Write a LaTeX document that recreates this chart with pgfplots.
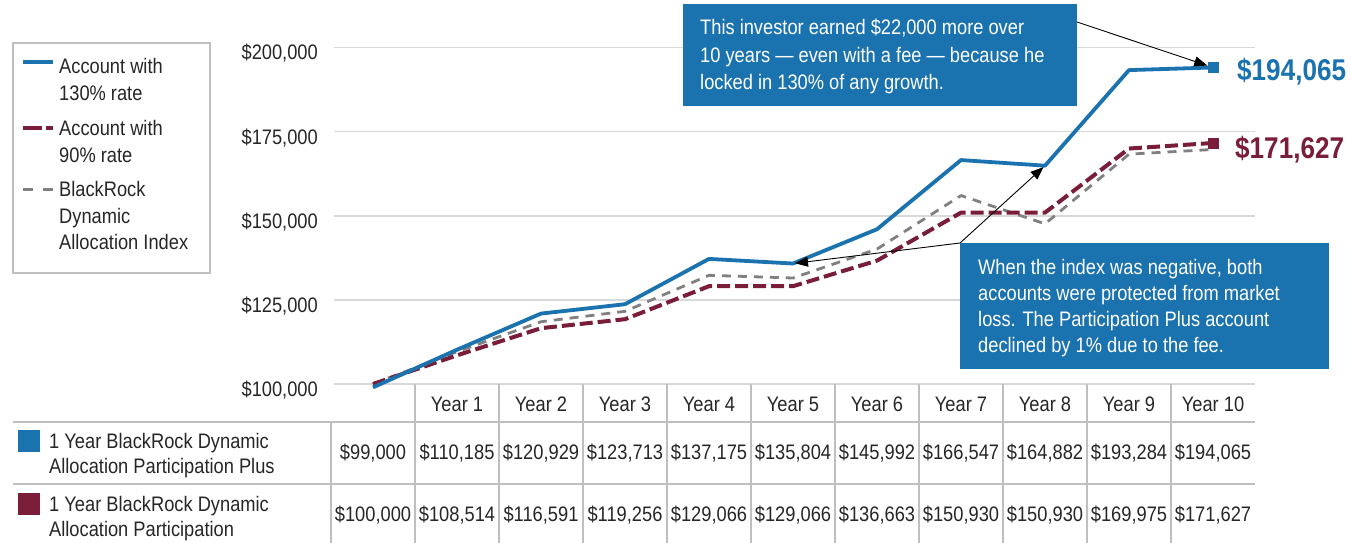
\documentclass[border=0pt]{standalone}
\usepackage{fontspec}
\setmainfont{Liberation Sans}[FakeStretch=0.87]
\usepackage{pgfplots}
\pgfplotsset{compat=1.18}
\usepackage{pgfplotstable}
\usetikzlibrary{arrows.meta}

\definecolor{cblue}{HTML}{1A72AF}
\definecolor{cred}{HTML}{7A1D39}
\definecolor{cgray}{HTML}{808080}
\definecolor{gridc}{HTML}{D9D9D9}
\definecolor{tline}{HTML}{BFBFBF}
\definecolor{txt}{HTML}{262626}

\pgfplotstableread{
year plus   part   index
0    99000  100000 100000
1    110185 108514 109600
2    120929 116591 118500
3    123713 119256 121600
4    137175 129066 132300
5    135804 129066 131500
6    145992 136663 140100
7    166547 150930 156000
8    164882 150930 147600
9    193284 169975 168300
10   194065 171627 169700
}\data

\newcommand\fs{\fontsize{21}{25}\selectfont}
\newcommand\cell[3]{\node[anchor=base] at ({373+84*#1},#2) {\$#3};}

\begin{document}
\begin{tikzpicture}[font=\fs, every node/.append style={text=txt}]
\useasboundingbox (0pt,0pt) rectangle (1351pt,-543pt);
\begin{axis}[
  at={(334pt,-384pt)}, anchor=south west,
  scale only axis, width=921pt, height=336.5pt,
  xmin=-0.4643, xmax=10.5, ymin=100000, ymax=200000,
  clip=false,
  axis line style={draw=none},
  xtick=\empty,
  scaled y ticks=false,
  ytick={100000,125000,150000,175000,200000},
  yticklabels={{\$100,000},{\$125,000},{\$150,000},{\$175,000},{\$200,000}},
  major tick length=0pt,
  ymajorgrids, grid style={gridc, line width=1.5pt},
  yticklabel style={anchor=east, inner sep=0pt, xshift=-16pt, yshift=-6pt, font=\fs, text=txt},
]
\addplot[cgray, line width=2.8pt, dash pattern=on 9pt off 7pt, line join=round] table[x=year,y=index]{\data};
\addplot[cred, line width=4pt, dash pattern=on 13pt off 5pt, line join=round] table[x=year,y=part]{\data};
\addplot[cblue, line width=3.8pt, line join=round] table[x=year,y=plus]{\data};
\addplot[only marks, mark=square*, mark size=5.2pt, cblue] coordinates {(10,194065)};
\addplot[only marks, mark=square*, mark size=5.2pt, cred] coordinates {(10,171627)};
\node[anchor=west, inner sep=0pt, xshift=24pt, yshift=-4.5pt, text=cblue, font=\fontsize{30}{36}\selectfont\bfseries] at (axis cs:10,194065) {\$194,065};
\node[anchor=west, inner sep=0pt, xshift=22pt, yshift=-7pt, text=cred, font=\fontsize{30}{36}\selectfont\bfseries] at (axis cs:10,171627) {\$171,627};
\coordinate (b5) at (axis cs:5,135804);
\coordinate (b8) at (axis cs:8,164882);
\coordinate (b10) at (axis cs:10,194065);
\end{axis}

\begin{scope}[x=1pt, y=-1pt]
% legend
\draw[tline, line width=1.5pt] (13,43) rectangle (210,273);
\draw[cblue, line width=4pt] (23,62) -- (53,62);
\draw[cred, line width=4pt] (23,128) -- (42,128) (46,128) -- (53,128);
\draw[cgray, line width=3pt] (23,189) -- (33,189) (43,189) -- (53,189);
\node[anchor=base west, inner sep=0pt] at (59,74) {Account with};
\node[anchor=base west, inner sep=0pt] at (59,100.5) {130\% rate};
\node[anchor=base west, inner sep=0pt] at (59,135.5) {Account with};
\node[anchor=base west, inner sep=0pt] at (59,162) {90\% rate};
\node[anchor=base west, inner sep=0pt] at (59,196.5) {BlackRock};
\node[anchor=base west, inner sep=0pt] at (59,223) {Dynamic};
\node[anchor=base west, inner sep=0pt] at (59,249.5) {Allocation Index};

% arrows
\draw[black, line width=0.9pt, -{Triangle[length=13pt,width=10pt]}, shorten >=6pt] (1077,22) -- (b10);
\draw[black, line width=0.9pt, -{Triangle[length=13pt,width=10pt]}, shorten >=2pt] (960,243) -- (b5);
\draw[black, line width=0.9pt, -{Triangle[length=13pt,width=10pt]}, shorten >=2pt] (960,243) -- (b8);

% annotation box 1
\fill[cblue] (683,4) rectangle (1077,106);
\node[anchor=base west, inner sep=0pt, text=white] at (700,35) {This investor earned \$22,000 more over};
\node[anchor=base west, inner sep=0pt, text=white] at (700,62.3) {10 years — even with a fee — because he};
\node[anchor=base west, inner sep=0pt, text=white] at (700,89.3) {locked in 130\% of any growth.};

% annotation box 2
\fill[cblue] (960,243) rectangle (1329,369);
\node[anchor=base west, inner sep=0pt, text=white] at (978,274) {When the index was negative, both};
\node[anchor=base west, inner sep=0pt, text=white] at (978,300) {accounts were protected from market};
\node[anchor=base west, inner sep=0pt, text=white] at (978,326) {loss. The Participation Plus account};
\node[anchor=base west, inner sep=0pt, text=white] at (978,352) {declined by 1\% due to the fee.};

% table lines
\draw[tline, line width=1.5pt] (13,422) -- (1255,422) (13,484) -- (1255,484);
\draw[tline, line width=1.5pt] (331,422) -- (331,543);
\foreach \k in {1,...,10} {\draw[tline, line width=1.5pt] ({331+84*\k},384) -- ({331+84*\k},543);}
\foreach \k in {1,...,10} {\node[anchor=base] at ({373+84*\k},411) {Year \k};}

% row labels
\fill[cblue] (18,430) rectangle (40,452);
\fill[cred] (18,493) rectangle (40,515);
\node[anchor=base west, inner sep=0pt] at (49,448) {1 Year BlackRock Dynamic};
\node[anchor=base west, inner sep=0pt] at (49,473) {Allocation Participation Plus};
\node[anchor=base west, inner sep=0pt] at (49,511.5) {1 Year BlackRock Dynamic};
\node[anchor=base west, inner sep=0pt] at (49,536.5) {Allocation Participation};

% row 1 values
\cell{0}{459}{99,000}
\cell{1}{459}{110,185}
\cell{2}{459}{120,929}
\cell{3}{459}{123,713}
\cell{4}{459}{137,175}
\cell{5}{459}{135,804}
\cell{6}{459}{145,992}
\cell{7}{459}{166,547}
\cell{8}{459}{164,882}
\cell{9}{459}{193,284}
\cell{10}{459}{194,065}
% row 2 values
\cell{0}{521}{100,000}
\cell{1}{521}{108,514}
\cell{2}{521}{116,591}
\cell{3}{521}{119,256}
\cell{4}{521}{129,066}
\cell{5}{521}{129,066}
\cell{6}{521}{136,663}
\cell{7}{521}{150,930}
\cell{8}{521}{150,930}
\cell{9}{521}{169,975}
\cell{10}{521}{171,627}
\end{scope}
\end{tikzpicture}
\end{document}
